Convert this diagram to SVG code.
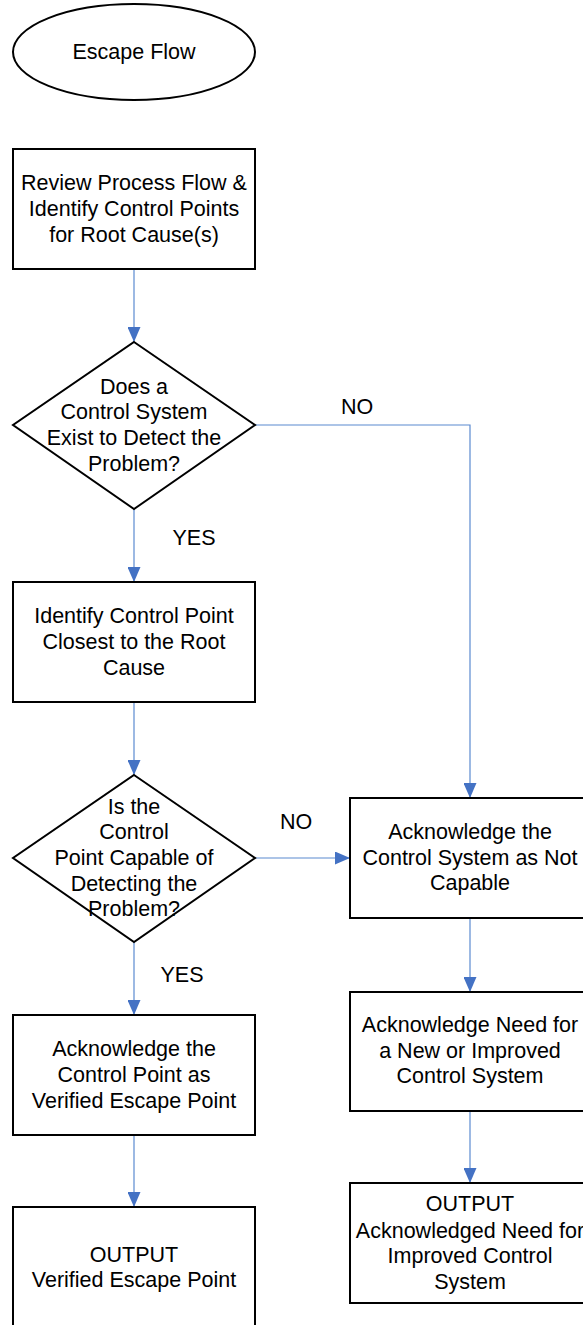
<svg xmlns="http://www.w3.org/2000/svg" width="583" height="1325" viewBox="0 0 583 1325">
  <style>
    .shape { fill: #ffffff; stroke: #000000; stroke-width: 2; }
    .lbl { font-family: "Liberation Sans", Arial, sans-serif; font-size: 21.5px; fill: #000000; text-anchor: middle; }
    .conn { fill: none; stroke: #5b8ad0; stroke-width: 1.2; }
  </style>
  <defs>
    <marker id="arrow" viewBox="0 0 15 13" refX="15" refY="6.5" markerWidth="15" markerHeight="13" markerUnits="userSpaceOnUse" orient="auto">
      <path d="M0,0 L15,6.5 L0,13 Z" fill="#4472c4"/>
    </marker>
  </defs>
  <rect width="583" height="1325" fill="#ffffff"/>

  <!-- connectors and their branch labels -->
  <g id="connectors">
    <path class="conn" d="M134,269 V342" marker-end="url(#arrow)"/>
    <path class="conn" d="M134,509 V582" marker-end="url(#arrow)"/>
    <path class="conn" d="M255,425 H470 V798" marker-end="url(#arrow)"/>
    <path class="conn" d="M134,702 V775" marker-end="url(#arrow)"/>
    <path class="conn" d="M255,858 H350" marker-end="url(#arrow)"/>
    <path class="conn" d="M134,942 V1015" marker-end="url(#arrow)"/>
    <path class="conn" d="M134,1135 V1207" marker-end="url(#arrow)"/>
    <path class="conn" d="M470,918 V992" marker-end="url(#arrow)"/>
    <path class="conn" d="M470,1111 V1183" marker-end="url(#arrow)"/>
    <text class="lbl" x="357" y="414">NO</text>
    <text class="lbl" x="194" y="545">YES</text>
    <text class="lbl" x="296" y="829">NO</text>
    <text class="lbl" x="182" y="982">YES</text>
  </g>

  <g id="start">
    <ellipse class="shape" cx="134" cy="52" rx="121" ry="48"/>
    <text class="lbl" x="134" y="59">Escape Flow</text>
  </g>

  <g id="review">
    <rect class="shape" x="13" y="149" width="242" height="120"/>
    <text class="lbl" x="134" y="190">Review Process Flow &amp;</text>
    <text class="lbl" x="134" y="216">Identify Control Points</text>
    <text class="lbl" x="134" y="242">for Root Cause(s)</text>
  </g>

  <g id="exists">
    <polygon class="shape" points="134,342 255,425 134,509 13,425"/>
    <text class="lbl" x="134" y="394">Does a</text>
    <text class="lbl" x="134" y="419">Control System</text>
    <text class="lbl" x="134" y="445">Exist to Detect the</text>
    <text class="lbl" x="134" y="471">Problem?</text>
  </g>

  <g id="identify">
    <rect class="shape" x="13" y="582" width="242" height="120"/>
    <text class="lbl" x="134" y="623">Identify Control Point</text>
    <text class="lbl" x="134" y="649">Closest to the Root</text>
    <text class="lbl" x="134" y="675">Cause</text>
  </g>

  <g id="capable">
    <polygon class="shape" points="134,775 255,858 134,942 13,858"/>
    <text class="lbl" x="134" y="814">Is the</text>
    <text class="lbl" x="134" y="839">Control</text>
    <text class="lbl" x="134" y="865">Point Capable of</text>
    <text class="lbl" x="134" y="891">Detecting the</text>
    <text class="lbl" x="134" y="916">Problem?</text>
  </g>

  <g id="not-capable">
    <rect class="shape" x="350" y="798" width="240" height="120"/>
    <text class="lbl" x="470" y="839">Acknowledge the</text>
    <text class="lbl" x="470" y="865">Control System as Not</text>
    <text class="lbl" x="470" y="890">Capable</text>
  </g>

  <g id="verified">
    <rect class="shape" x="13" y="1015" width="242" height="120"/>
    <text class="lbl" x="134" y="1056">Acknowledge the</text>
    <text class="lbl" x="134" y="1082">Control Point as</text>
    <text class="lbl" x="134" y="1108">Verified Escape Point</text>
  </g>

  <g id="need">
    <rect class="shape" x="350" y="992" width="240" height="119"/>
    <text class="lbl" x="470" y="1032">Acknowledge Need for</text>
    <text class="lbl" x="470" y="1058">a New or Improved</text>
    <text class="lbl" x="470" y="1083">Control System</text>
  </g>

  <g id="output-verified">
    <rect class="shape" x="13" y="1207" width="242" height="125"/>
    <text class="lbl" x="134" y="1262">OUTPUT</text>
    <text class="lbl" x="134" y="1287">Verified Escape Point</text>
  </g>

  <g id="output-need">
    <rect class="shape" x="350" y="1183" width="240" height="120"/>
    <text class="lbl" x="470" y="1211">OUTPUT</text>
    <text class="lbl" x="470" y="1238">Acknowledged Need for</text>
    <text class="lbl" x="470" y="1263">Improved Control</text>
    <text class="lbl" x="470" y="1289">System</text>
  </g>
</svg>
